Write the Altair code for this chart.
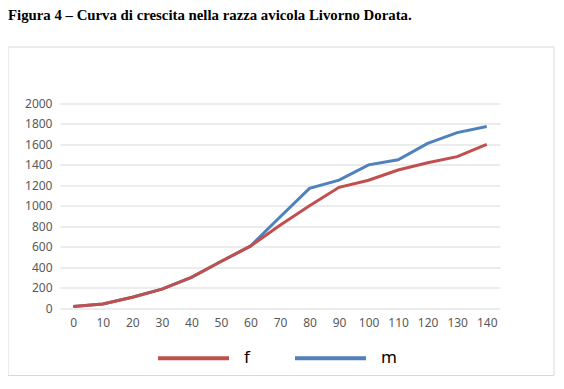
import altair as alt
import pandas as pd

days = [0, 10, 20, 30, 40, 50, 60, 70, 80, 90, 100, 110, 120, 130, 140]
f_vals = [15, 40, 105, 185, 300, 455, 605, 810, 1000, 1180, 1250, 1350, 1420, 1480, 1600]
m_vals = [15, 40, 105, 185, 300, 455, 605, 890, 1170, 1250, 1400, 1450, 1610, 1715, 1775]
series = ["f", "m"]
colors = ["#C0504D", "#4F81BD"]
title_text = "Figura 4 – Curva di crescita nella razza avicola Livorno Dorata."
y_ticks = [0, 200, 400, 600, 800, 1000, 1200, 1400, 1600, 1800, 2000]

df_f = pd.DataFrame({"day": days, "value": f_vals, "sex": "f"})
df_m = pd.DataFrame({"day": days, "value": m_vals, "sex": "m"})

x_enc = alt.X("day:Q",
              scale=alt.Scale(domain=[-4.5, 144.5], nice=False, zero=False),
              axis=alt.Axis(values=days, title=None, grid=False, ticks=False,
                            domain=False, labelPadding=9, labelFontSize=12,
                            labelColor="#595959", labelFont="Noto Sans", format="d"))
y_enc = alt.Y("value:Q",
              scale=alt.Scale(domain=[0, 2000], nice=False),
              axis=alt.Axis(values=y_ticks, title=None, grid=True, gridColor="#d9d9d9",
                            gridWidth=1, ticks=False, domain=False, labelPadding=8,
                            labelFontSize=12, labelColor="#595959", labelFont="Noto Sans",
                            format="d"))
color_enc = alt.Color("sex:N",
                      scale=alt.Scale(domain=series, range=colors),
                      legend=alt.Legend(title=None, orient="none", legendX=96, legendY=217,
                                        direction="horizontal", symbolType="stroke",
                                        symbolSize=5041, symbolStrokeWidth=4,
                                        labelFontSize=17, labelFont="Noto Sans",
                                        labelColor="#000000", labelOffset=13,
                                        columnPadding=37))

line_m = alt.Chart(df_m).mark_line(strokeWidth=3).encode(x=x_enc, y=y_enc, color=color_enc)
line_f = alt.Chart(df_f).mark_line(strokeWidth=3).encode(x=x_enc, y=y_enc, color=color_enc)

border = alt.Chart(pd.DataFrame({"a": [0]})).mark_rect(
    fill=None, stroke="#d9d9d9", strokeWidth=1
).encode(x=alt.value(-52), x2=alt.value(494), y=alt.value(-56.5), y2=alt.value(272))

title = alt.Chart(pd.DataFrame({"t": [title_text]})).mark_text(
    align="left", baseline="alphabetic", font="Liberation Serif", fontSize=14.8,
    fontWeight="bold", color="#000000"
).encode(text="t:N", x=alt.value(-52), y=alt.value(-83.5))

chart = alt.layer(border, title, line_m, line_f).properties(
    width=440, height=204.5,
    autosize=alt.AutoSizeParams(type="none"),
    padding={"left": 52, "top": 95.5, "right": 56, "bottom": 73},
).configure_view(stroke=None)

chart.save("out.html", embed_options={"renderer": "svg", "actions": False})
